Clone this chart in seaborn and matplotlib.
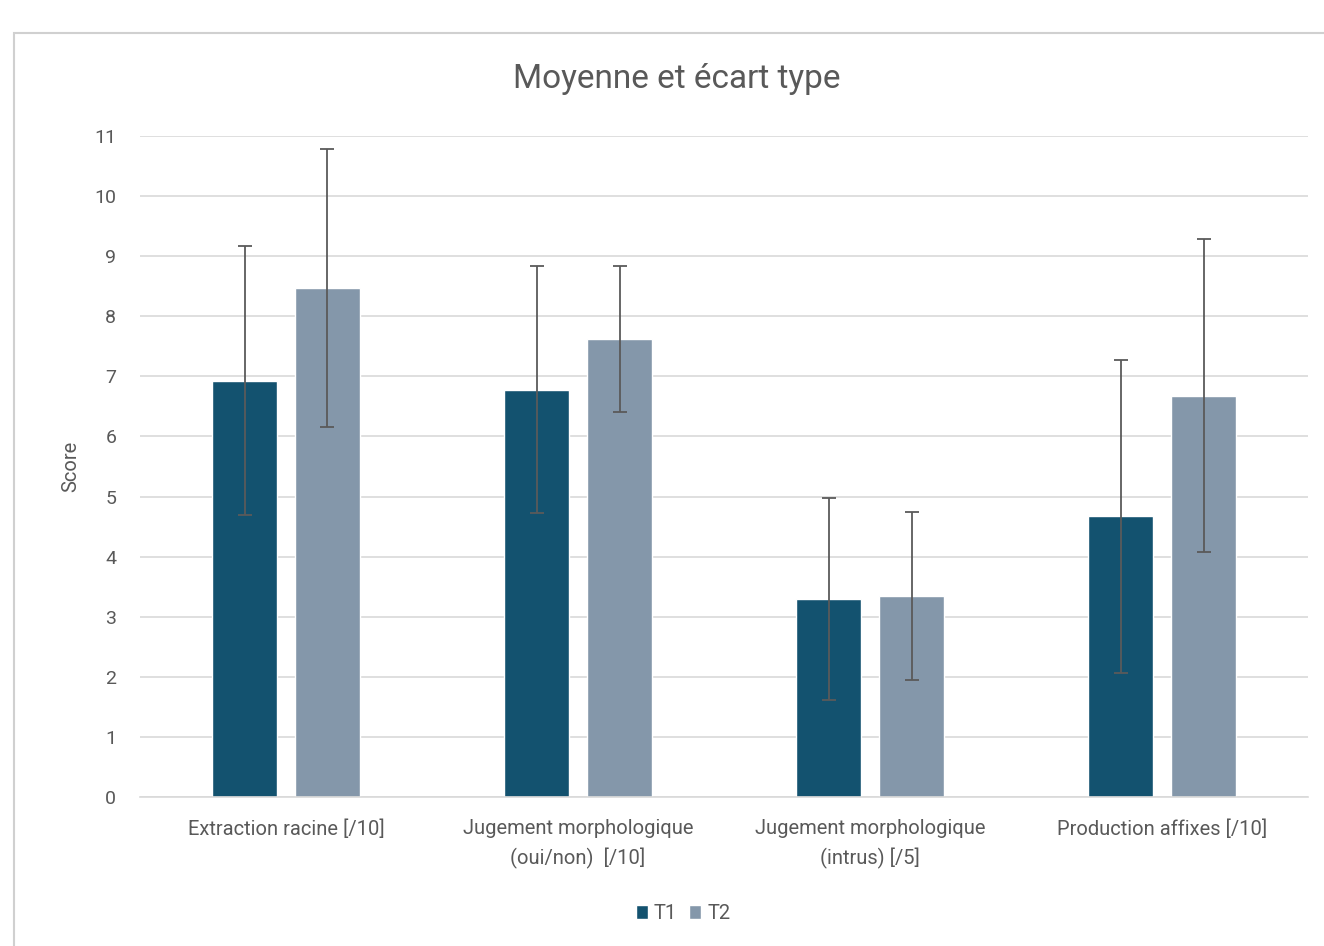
import numpy as np
import pandas as pd
import seaborn as sns
import matplotlib.pyplot as plt
from matplotlib.patches import Rectangle

# values
categories = ["Extraction racine [/10]",
              "Jugement morphologique\n(oui/non)  [/10]",
              "Jugement morphologique\n(intrus) [/5]",
              "Production affixes [/10]"]
t1_mean = [6.93, 6.78, 3.30, 4.67]
t2_mean = [8.47, 7.62, 3.34, 6.68]
t1_sd = [2.24, 2.05, 1.68, 2.61]
t2_sd = [2.32, 1.21, 1.40, 2.60]
series = ["T1", "T2"]
colors = ["#13526f", "#8497aa"]

df = pd.DataFrame({
    "cat": categories * 2,
    "time": [series[0]] * 4 + [series[1]] * 4,
    "mean": t1_mean + t2_mean,
    "sd": t1_sd + t2_sd,
})

sns.set_theme(style="white")
plt.rcParams['font.family'] = ['Roboto', 'DejaVu Sans']
txt = "#595959"

fig = plt.figure(figsize=(13.24, 9.46), dpi=100)
ax = fig.add_axes([0.1057, 0.1575, 0.8825, 0.6987])

sns.barplot(data=df, x="cat", y="mean", hue="time", palette=colors,
            width=0.568, gap=0.217, errorbar=None, ax=ax, legend=True,
            saturation=1)

# error bars at the bar centres seaborn placed
for cont, sds in zip(ax.containers, [t1_sd, t2_sd]):
    xs = [p.get_x() + p.get_width() / 2 for p in cont.patches]
    ys = [p.get_height() for p in cont.patches]
    ax.errorbar(xs, ys, yerr=sds, fmt="none", ecolor="#5a5a5a",
                elinewidth=1.3, capsize=5, capthick=1.3, zorder=5)

ax.set_ylim(0, 11)
ax.set_xlim(-0.5, 3.5)
ax.set_yticks(range(0, 12))
ax.yaxis.grid(True, color="#d9d9d9", lw=1.2)
ax.set_axisbelow(True)
for s in ["top", "right", "left"]:
    ax.spines[s].set_visible(False)
ax.spines["bottom"].set_color("#d9d9d9")
ax.spines["bottom"].set_linewidth(1.2)
ax.tick_params(axis="y", labelsize=14, labelcolor=txt, length=0, pad=17)
ax.tick_params(axis="x", labelsize=14.5, labelcolor=txt, length=0, pad=16)
for lab in ax.get_xticklabels():
    lab.set_linespacing(1.55)
ax.set_xlabel("")
ax.set_ylabel("Score", fontsize=14.5, color=txt, labelpad=10)

ax.legend(loc="center", bbox_to_anchor=(0.465, -0.177), ncol=2, frameon=False,
          fontsize=14.5, labelcolor=txt, handlelength=0.6, handleheight=0.7,
          handletextpad=0.3, columnspacing=0.6)

fig.text(0.511, 0.917, "Moyenne et écart type", ha="center", va="center",
         fontsize=24, color=txt)

fig.patches.append(Rectangle((14 / 1324, -0.1), 1.2, 1.1 - 33 / 946,
                             transform=fig.transFigure, fill=False,
                             edgecolor="#d0d0d0", lw=1.5))

fig.savefig("out.png", dpi=100)
